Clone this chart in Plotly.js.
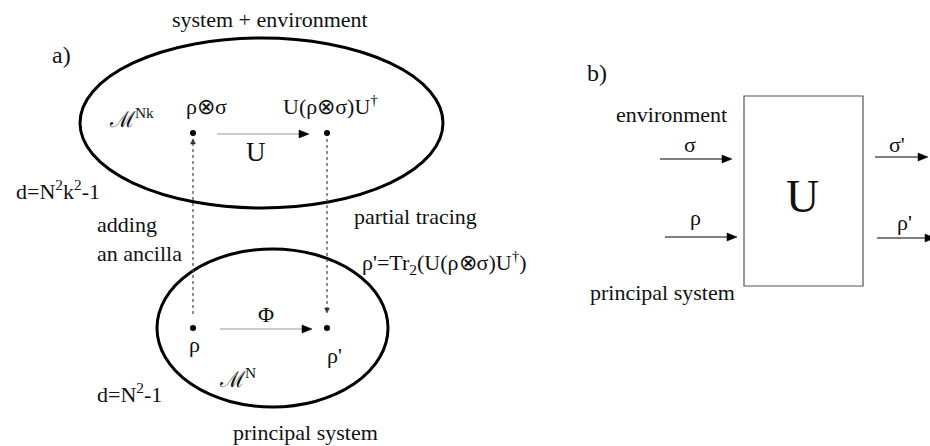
<!DOCTYPE html>
<html>
<head>
<meta charset="utf-8">
<script src="https://cdn.plot.ly/plotly-3.0.1.min.js"></script>
<style>html,body{margin:0;padding:0;background:#fff;}#plot{width:930px;height:446px;}</style>
</head>
<body>
<div id="plot"></div>
<script>
// ---- content (labels) ----
const panelLabels = ['a)', 'b)'];
const regionTitles = ['system + environment', 'principal system'];
const manifoldLabels = ['ℳ<sup>Nk</sup>', 'ℳ<sup>N</sup>'];
const dimLabels = ['d=N<sup>2</sup>k<sup>2</sup>-1', 'd=N<sup>2</sup>-1'];
const stateLabels = ['ρ⊗σ', 'U(ρ⊗σ)U<sup>†</sup>', 'ρ', "ρ'"];
const mapLabels = ['U', 'Φ'];
const processLabels = ['adding<br>an ancilla', 'partial tracing', "ρ'=Tr<sub>2</sub>(U(ρ⊗σ)U<sup>†</sup>)"];
const circuitInputs = ['σ', 'ρ'];
const circuitOutputs = ["σ'", "ρ'"];
const circuitSides = ['environment', 'principal system'];
const gateLabel = ['U'];

// ---- geometry (pixel coordinates of the diagram) ----
const dotX = [193, 327, 193, 327];
const dotY = [133, 133, 328, 328];

const FONT = '"Liberation Serif", "Times New Roman", serif';
const annotations = [];
const shapes = [];
function txt(x, y, t, size, opts) {
  annotations.push(Object.assign({x: x, y: y, xref: 'x', yref: 'y', text: t, showarrow: false,
    xanchor: 'center', yanchor: 'middle', borderpad: 0, font: {family: FONT, size: size, color: '#111'}}, opts || {}));
}
function headH(x, y, dir, len, half, color) {
  const b = x - dir * len;
  shapes.push({type: 'path', xref: 'x', yref: 'y',
    path: 'M ' + x + ' ' + y + ' L ' + b + ' ' + (y - half) + ' L ' + b + ' ' + (y + half) + ' Z',
    fillcolor: color, line: {color: color, width: 0.5}});
}
function headV(x, y, dir, len, half, color) {
  const b = y - dir * len;
  shapes.push({type: 'path', xref: 'x', yref: 'y',
    path: 'M ' + x + ' ' + y + ' L ' + (x - half) + ' ' + b + ' L ' + (x + half) + ' ' + b + ' Z',
    fillcolor: color, line: {color: color, width: 0.5}});
}
function arrow(x0, y0, x1, y1, lineColor, headColor) {
  shapes.push({type: 'line', xref: 'x', yref: 'y', x0: x0, y0: y0, x1: x1 - 8, y1: y1,
    line: {color: lineColor, width: 1.2}});
  headH(x1, y1, 1, 10, 4, headColor);
}
function dotted(x, y0, y1) {
  shapes.push({type: 'line', xref: 'x', yref: 'y', x0: x, y0: y0, x1: x, y1: y1,
    line: {color: '#444', width: 1.2, dash: 'dot'}});
  const dir = y1 > y0 ? 1 : -1;
  headV(x, y1, dir, 5, 2.5, '#333');
}

// ellipses
shapes.push({type: 'circle', xref: 'x', yref: 'y', x0: 80, y0: 38, x1: 443, y1: 208, line: {color: '#000', width: 3}});
shapes.push({type: 'circle', xref: 'x', yref: 'y', x0: 157, y0: 249, x1: 388, y1: 407, line: {color: '#000', width: 3}});
// gate box
shapes.push({type: 'rect', xref: 'x', yref: 'y', x0: 744, y0: 96, x1: 863, y1: 286, line: {color: '#555', width: 1.2}});

// panel a texts
txt(61, 55, panelLabels[0], 24);
txt(270, 19, regionTitles[0], 22);
txt(305, 432, regionTitles[1], 22);
txt(131, 118, manifoldLabels[0], 22);
txt(237, 378, manifoldLabels[1], 22);
txt(58, 190, dimLabels[0], 22);
txt(129, 393, dimLabels[1], 22);
txt(206, 106, stateLabels[0], 22);
txt(330, 105, stateLabels[1], 22);
txt(194, 344, stateLabels[2], 22);
txt(334, 355, stateLabels[3], 22);
txt(256, 152, mapLabels[0], 27);
txt(266, 314, mapLabels[1], 22);
txt(96, 239, processLabels[0], 22, {xanchor: 'left', align: 'left'});
txt(353, 216, processLabels[1], 22, {xanchor: 'left'});
txt(361, 262, processLabels[2], 22, {xanchor: 'left'});

// arrows panel a
arrow(217, 134, 309, 134, '#999', '#000');
arrow(220, 329, 312, 329, '#999', '#000');
dotted(dotX[0], 314, 139);
dotted(dotX[1], 139, 313);

// panel b texts
txt(597, 73, panelLabels[1], 24);
txt(671, 114, circuitSides[0], 22);
txt(662, 292, circuitSides[1], 22);
txt(690, 144, circuitInputs[0], 22);
txt(695, 217, circuitInputs[1], 22);
txt(897, 144, circuitOutputs[0], 22);
txt(904, 222, circuitOutputs[1], 22);
txt(802, 196, gateLabel[0], 46);

// arrows panel b
arrow(660, 159, 732, 159, '#000', '#000');
arrow(665, 237, 737, 237, '#000', '#000');
arrow(875, 157, 928, 157, '#000', '#000');
arrow(877, 238, 935, 238, '#000', '#000');

const data = [{
  type: 'scatter', mode: 'markers', x: dotX, y: dotY,
  marker: {color: '#000', size: 6}, hoverinfo: 'skip', showlegend: false
}];

const layout = {
  width: 930, height: 446,
  margin: {l: 0, r: 0, t: 0, b: 0},
  paper_bgcolor: '#fff', plot_bgcolor: '#fff',
  xaxis: {range: [0, 930], visible: false, fixedrange: true},
  yaxis: {range: [446, 0], visible: false, fixedrange: true},
  shapes: shapes,
  annotations: annotations,
  showlegend: false
};
Plotly.newPlot('plot', data, layout, {staticPlot: true, displayModeBar: false});
</script>
</body>
</html>
